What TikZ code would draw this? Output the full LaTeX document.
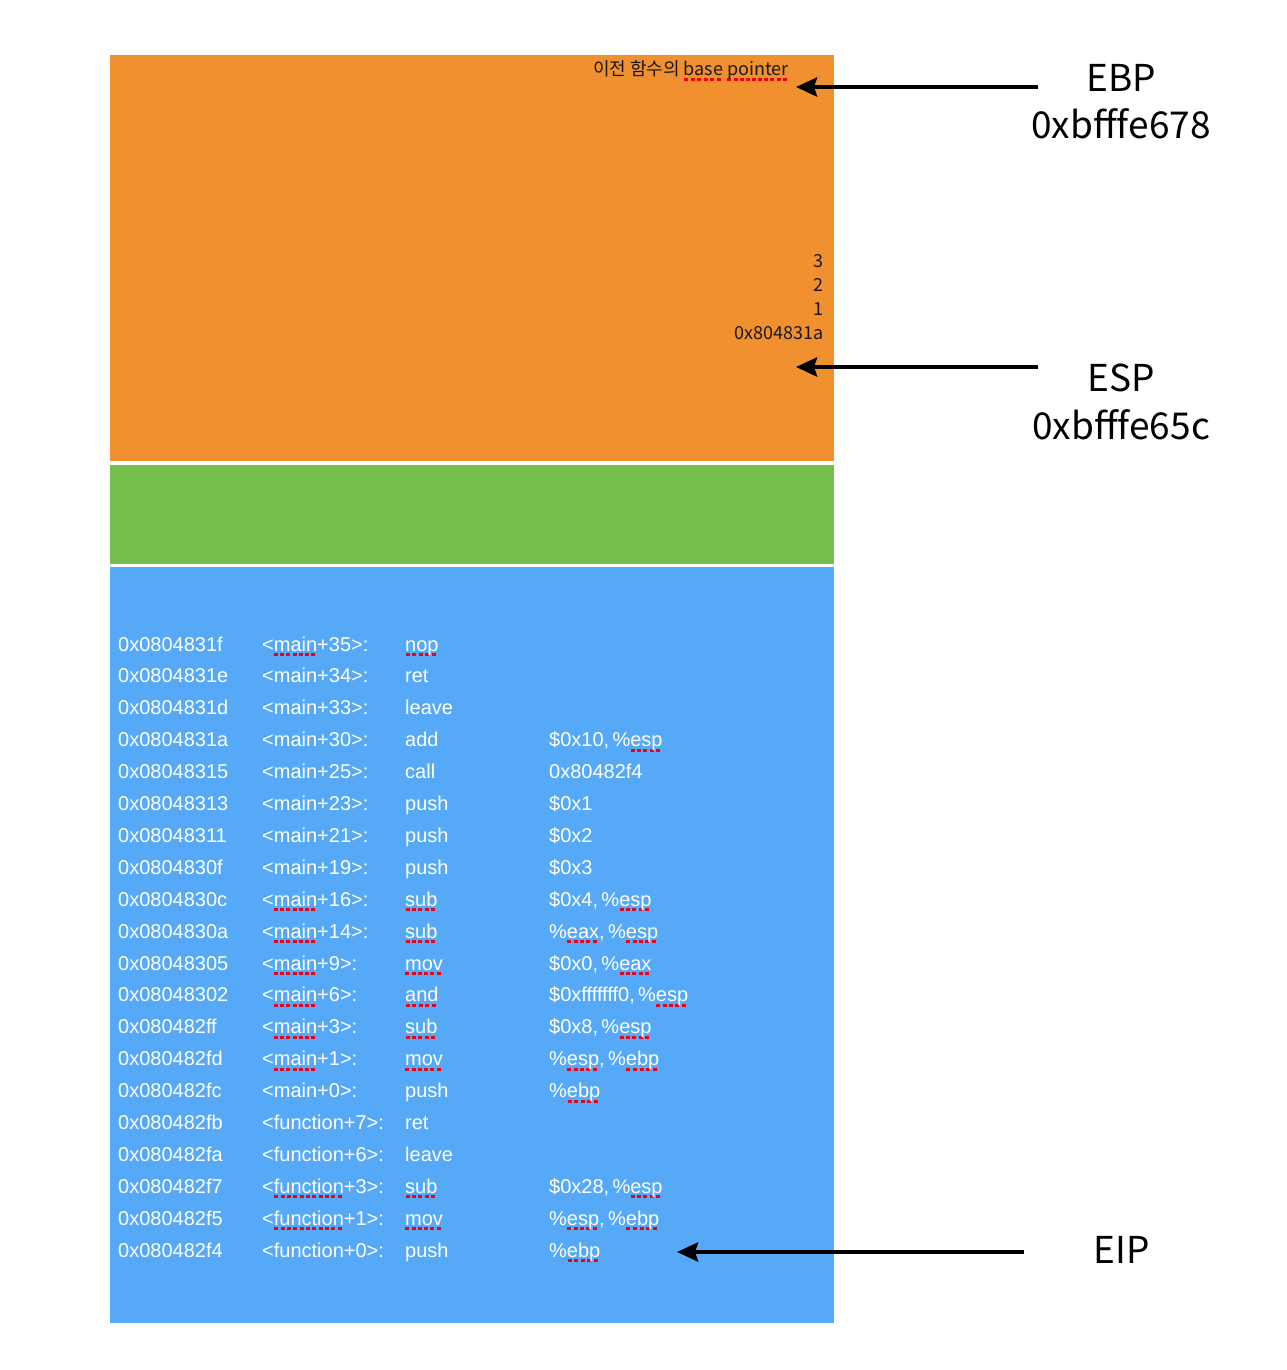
\documentclass[tikz,border=0pt]{standalone}
\usepackage{fontspec}
\setmainfont{Liberation Sans}
\newfontfamily\kr{Noto Sans CJK KR}
\usetikzlibrary{arrows.meta}
\definecolor{stkorange}{RGB}{241,144,47}
\definecolor{stkgreen}{RGB}{117,190,75}
\definecolor{stkblue}{RGB}{86,169,246}
\definecolor{sqred}{RGB}{240,0,20}
\newsavebox\sqbox
\newcommand\sq[1]{\sbox\sqbox{#1}\rlap{\raisebox{-5pt}{\color{sqred}\hbox to \wd\sqbox{\xleaders\hbox{\rule{4pt}{3pt}\hspace{2pt}}\hfill}}}\usebox\sqbox}
\newcommand\crow[5]{%
  \node[code] (addr#1) at (118,{651+31.9*(#1-1)}) {#2};
  \node[code] (sym#1) at (262,{651+31.9*(#1-1)}) {#3};
  \node[code] (op#1) at (405,{651+31.9*(#1-1)}) {#4};
  \node[code] (arg#1) at (549,{651+31.9*(#1-1)}) {#5};}
\begin{document}
\begin{tikzpicture}[x=1pt,y=-1pt,
  code/.style={anchor=base west,inner sep=0pt,text=white,font=\fontsize{20}{24}\selectfont},
  stacktxt/.style={anchor=base east,inner sep=0pt,text=black!90,font=\kr\fontsize{18}{22}\selectfont},
  reglabel/.style={anchor=base,inner sep=0pt,text=black,font=\kr\fontsize{37}{44}\selectfont},
  ptr/.style={line width=4pt,-{Stealth[length=21pt,width=19pt,inset=3pt]}}]
\useasboundingbox (0,0) rectangle (1286,1370);
\fill[white] (0,0) rectangle (1286,1370);
% stack regions
\fill[stkorange] (110,55) rectangle (834,461);
\fill[stkgreen] (110,465) rectangle (834,564);
\fill[stkblue] (110,567) rectangle (834,1323);
% stack contents
\node[stacktxt] (prevbp) at (789,76) {이전 함수의 \sq{base} \sq{pointer}};
\node[stacktxt] (v3) at (824,267.5) {3};
\node[stacktxt] (v2) at (824,291.5) {2};
\node[stacktxt] (v1) at (824,315.5) {1};
\node[stacktxt] (vret) at (824,339.5) {0x804831a};
% code listing
\crow{1}{0x0804831f}{<\sq{main}+35>:}{\sq{nop}}{}
\crow{2}{0x0804831e}{<main+34>:}{ret}{}
\crow{3}{0x0804831d}{<main+33>:}{leave}{}
\crow{4}{0x0804831a}{<main+30>:}{add}{\$0x10,\,\%\sq{esp}}
\crow{5}{0x08048315}{<main+25>:}{call}{0x80482f4}
\crow{6}{0x08048313}{<main+23>:}{push}{\$0x1}
\crow{7}{0x08048311}{<main+21>:}{push}{\$0x2}
\crow{8}{0x0804830f}{<main+19>:}{push}{\$0x3}
\crow{9}{0x0804830c}{<\sq{main}+16>:}{\sq{sub}}{\$0x4,\,\%\sq{esp}}
\crow{10}{0x0804830a}{<\sq{main}+14>:}{\sq{sub}}{\%\sq{eax},\,\%\sq{esp}}
\crow{11}{0x08048305}{<\sq{main}+9>:}{\sq{mov}}{\$0x0,\,\%\sq{eax}}
\crow{12}{0x08048302}{<\sq{main}+6>:}{\sq{and}}{\$0xfffffff0,\,\%\sq{esp}}
\crow{13}{0x080482ff}{<\sq{main}+3>:}{\sq{sub}}{\$0x8,\,\%\sq{esp}}
\crow{14}{0x080482fd}{<\sq{main}+1>:}{\sq{mov}}{\%\sq{esp},\,\%\sq{ebp}}
\crow{15}{0x080482fc}{<main+0>:}{push}{\%\sq{ebp}}
\crow{16}{0x080482fb}{<function+7>:}{ret}{}
\crow{17}{0x080482fa}{<function+6>:}{leave}{}
\crow{18}{0x080482f7}{<\sq{function}+3>:}{\sq{sub}}{\$0x28,\,\%\sq{esp}}
\crow{19}{0x080482f5}{<\sq{function}+1>:}{\sq{mov}}{\%\sq{esp},\,\%\sq{ebp}}
\crow{20}{0x080482f4}{<function+0>:}{push}{\%\sq{ebp}}
% register labels
\node[reglabel] (ebp) at (1121,92) {EBP};
\node[reglabel] (ebpval) at (1121,139) {0xbfffe678};
\node[reglabel] (esp) at (1121,391) {ESP};
\node[reglabel] (espval) at (1121,439) {0xbfffe65c};
\node[reglabel] (eip) at (1122,1263) {EIP};
% pointer arrows
\coordinate (ebpfrom) at (1038,87);
\coordinate (ebpto) at (796,87);
\coordinate (espfrom) at (1038,367);
\coordinate (espto) at (796,367);
\coordinate (eipfrom) at (1024,1252);
\coordinate (eipto) at (677,1252);
\draw[ptr] (ebpfrom) -- (ebpto);
\draw[ptr] (espfrom) -- (espto);
\draw[ptr] (eipfrom) -- (eipto);
\end{tikzpicture}
\end{document}
